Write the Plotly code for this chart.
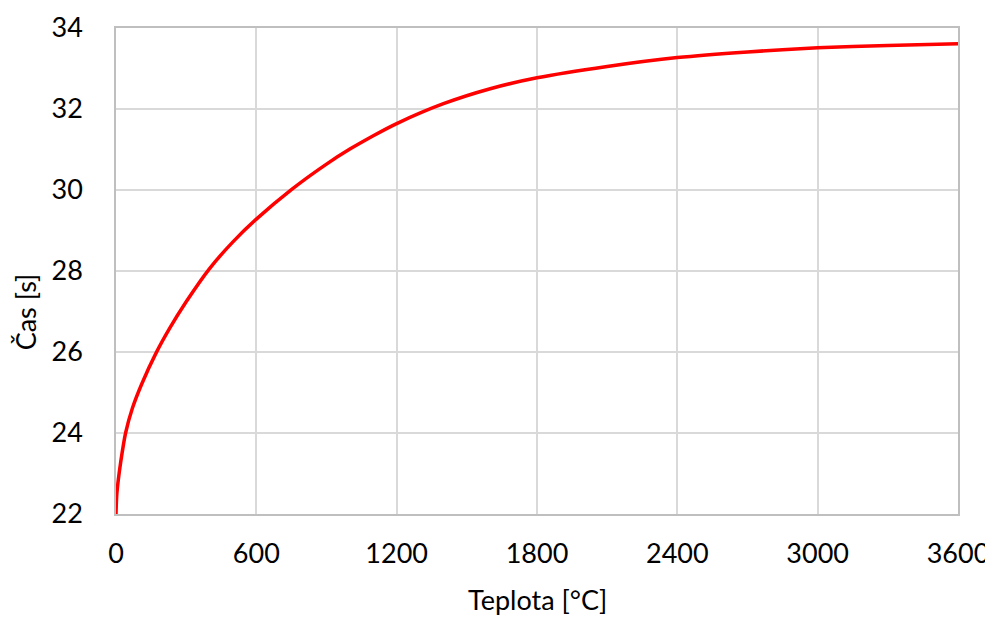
import plotly.graph_objects as go

# Values
teplota = [0, 3, 10, 20, 41, 70, 110, 170, 231, 300, 400, 500, 600, 750, 900,
           1000, 1100, 1200, 1400, 1600, 1800, 2100, 2400, 2700, 3000, 3300, 3600]
cas = [22.0, 22.45, 22.85, 23.28, 24.0, 24.61, 25.21, 25.96, 26.6, 27.24, 28.06,
       28.72, 29.28, 30.01, 30.64, 31.01, 31.34, 31.64, 32.13, 32.5, 32.77,
       33.05, 33.27, 33.41, 33.51, 33.57, 33.61]

x_ticks = [0, 600, 1200, 1800, 2400, 3000, 3600]
y_ticks = [22, 24, 26, 28, 30, 32, 34]

font_family = "Lato, 'Open Sans', sans-serif"
grid_col = '#d9d9d9'

fig = go.Figure()
fig.add_trace(go.Scatter(x=teplota, y=cas,
                         mode='lines',
                         line=dict(color='#ff0000', width=3.5, shape='spline', smoothing=0.8),
                         showlegend=False,
                         hoverinfo='skip'))

# page body adds ~8px offset, margins compensate for it
fig.update_layout(
    width=993, height=617,
    margin=dict(l=108, r=43, t=20, b=111),
    paper_bgcolor='white',
    plot_bgcolor='white',
    font=dict(family=font_family, size=27, color='#000000'),
    xaxis=dict(range=[0, 3600],
               tickvals=x_ticks,
               ticktext=[str(v) for v in x_ticks],
               showgrid=True, gridcolor=grid_col, gridwidth=1.5,
               showline=True, linecolor='#bfbfbf', linewidth=1.5, mirror=True,
               zeroline=False, automargin=False,
               ticks='', ticklabelstandoff=15),
    yaxis=dict(range=[22, 34],
               tickvals=y_ticks,
               showgrid=True, gridcolor=grid_col, gridwidth=1.5,
               showline=True, linecolor='#bfbfbf', linewidth=1.5, mirror=True,
               zeroline=False, automargin=False,
               ticks='', ticklabelstandoff=26),
)

# axis titles placed as in the reference
fig.add_annotation(text='Teplota [°C]',
                   xref='paper', yref='paper', x=0.5, y=-0.176,
                   xanchor='center', yanchor='middle', showarrow=False,
                   font=dict(family=font_family, size=27))
fig.add_annotation(text='Čas [s]', textangle=-90,
                   xref='paper', yref='paper', x=-0.108, y=0.415,
                   xanchor='center', yanchor='middle', showarrow=False,
                   font=dict(family=font_family, size=27))

fig.write_html("out.html")
